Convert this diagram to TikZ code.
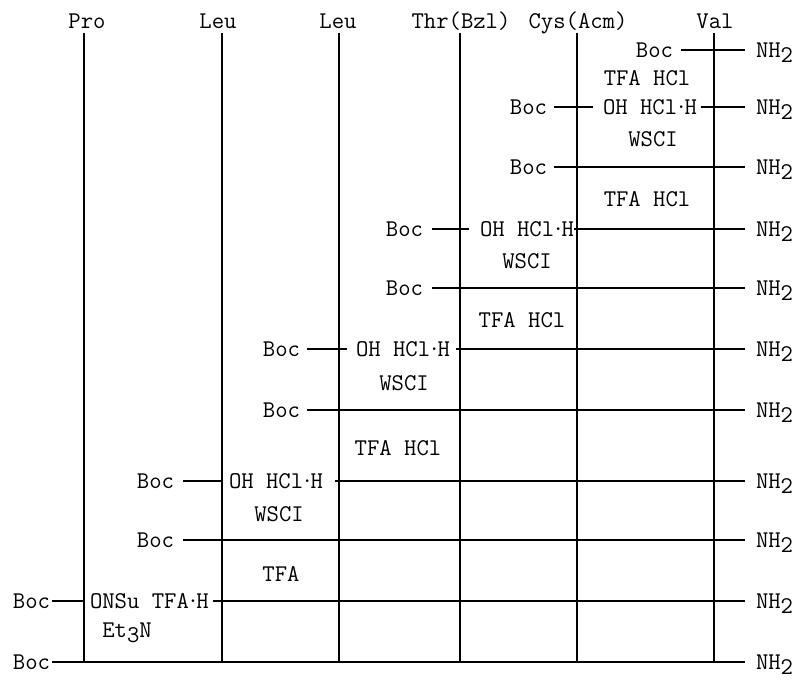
\documentclass[tikz,border=0pt]{standalone}
\newcommand{\subdn}[1]{\raisebox{-5pt}{#1}}
\newcommand{\hcl}{HCl\kern-2pt·\kern-3pt H}
\begin{document}
\begin{tikzpicture}[x=1pt,y=-1pt,
  lbl/.style={font=\ttfamily\fontsize{24}{28}\selectfont, inner sep=0pt, outer sep=0pt, text height=14.6pt, text depth=0pt},
  rail/.style={line width=2.3pt},
  bond/.style={line width=1.8pt, shorten <=8pt, shorten >=11pt},
]
\useasboundingbox (0,0) rectangle (802,682);
% column heads
\node[lbl] (hPro) at (87,21) {Pro};
\node[lbl] (hLeuA) at (218,21) {Leu};
\node[lbl] (hLeuB) at (338,21) {Leu};
\node[lbl] (hThr) at (461,21) {Thr(Bzl)};
\node[lbl] (hCys) at (578,21) {Cys(Acm)};
\node[lbl] (hVal) at (715,21) {Val};
% column rails
\coordinate (tPro) at (84,33);   \coordinate (bPro) at (84,662);
\coordinate (tLeuA) at (222,33); \coordinate (bLeuA) at (222,662);
\coordinate (tLeuB) at (339,33); \coordinate (bLeuB) at (339,662);
\coordinate (tThr) at (460,33);  \coordinate (bThr) at (460,662);
\coordinate (tCys) at (577,33);  \coordinate (bCys) at (577,662);
\coordinate (tVal) at (714,33);  \coordinate (bVal) at (714,662);
\foreach \c in {Pro,LeuA,LeuB,Thr,Cys,Val}{\draw[rail] (t\c) -- (b\c);}
% row 1
\node[lbl,anchor=east] (b1) at (673,50) {Boc};
\node[lbl,anchor=west] (n1) at (756,50) {NH\subdn{2}};
\draw[bond] (b1) -- (n1);
\node[lbl] (r1) at (647,78) {TFA HCl};
% row 2
\node[lbl,anchor=east] (b2) at (547,107) {Boc};
\node[lbl,anchor=west] (o2) at (603,107) {OH \hcl};
\node[lbl,anchor=west] (n2) at (756,107) {NH\subdn{2}};
\draw[bond, shorten <=7pt, shorten >=10pt] (b2) -- (o2);
\draw[bond, shorten <=4pt] (o2) -- (n2);
\node[lbl] (w2) at (653,139) {WSCI};
% row 3
\node[lbl,anchor=east] (b3) at (547,167) {Boc};
\node[lbl,anchor=west] (n3) at (756,167) {NH\subdn{2}};
\draw[bond, shorten <=7pt] (b3) -- (n3);
\node[lbl] (r3) at (647,199) {TFA HCl};
% row 4
\node[lbl,anchor=east] (b4) at (423,229) {Boc};
\node[lbl,anchor=west] (o4) at (480,229) {OH \hcl};
\node[lbl,anchor=west] (n4) at (756,229) {NH\subdn{2}};
\draw[bond, shorten <=9pt, shorten >=11pt] (b4) -- (o4);
\draw[bond, shorten <=0pt] (o4) -- (n4);
\node[lbl] (w4) at (527,261) {WSCI};
% row 5
\node[lbl,anchor=east] (b5) at (423,288) {Boc};
\node[lbl,anchor=west] (n5) at (756,288) {NH\subdn{2}};
\draw[bond, shorten <=9pt] (b5) -- (n5);
\node[lbl] (r5) at (522,320) {TFA HCl};
% row 6
\node[lbl,anchor=east] (b6) at (300,349) {Boc};
\node[lbl,anchor=west] (o6) at (356,349) {OH \hcl};
\node[lbl,anchor=west] (n6) at (756,349) {NH\subdn{2}};
\draw[bond, shorten <=7pt, shorten >=9pt] (b6) -- (o6);
\draw[bond, shorten <=6pt] (o6) -- (n6);
\node[lbl] (w6) at (404,383) {WSCI};
% row 7
\node[lbl,anchor=east] (b7) at (300,410) {Boc};
\node[lbl,anchor=west] (n7) at (756,410) {NH\subdn{2}};
\draw[bond, shorten <=7pt] (b7) -- (n7);
\node[lbl] (r7) at (398,448) {TFA HCl};
% row 8
\node[lbl,anchor=east] (b8) at (174,481) {Boc};
\node[lbl,anchor=west] (o8) at (229,481) {OH \hcl};
\node[lbl,anchor=west] (n8) at (756,481) {NH\subdn{2}};
\draw[bond, shorten <=9pt, shorten >=6pt] (b8) -- (o8);
\draw[bond, shorten <=12pt] (o8) -- (n8);
\node[lbl] (w8) at (279,514) {WSCI};
% row 9
\node[lbl,anchor=east] (b9) at (174,540) {Boc};
\node[lbl,anchor=west] (n9) at (756,540) {NH\subdn{2}};
\draw[bond, shorten <=9pt] (b9) -- (n9);
\node[lbl] (r9) at (281,574) {TFA};
% row 10
\node[lbl,anchor=east] (b10) at (50,601) {Boc};
\node[lbl,anchor=west] (o10) at (90,601) {ONSu TFA\kern-2pt·\kern-3pt H};
\node[lbl,anchor=west] (n10) at (756,601) {NH\subdn{2}};
\draw[bond, shorten <=2pt, shorten >=6pt] (b10) -- (o10);
\draw[bond, shorten <=4pt] (o10) -- (n10);
\node[lbl] (e10) at (127,630) {Et\subdn{3}N};
% row 11
\node[lbl,anchor=east] (b11) at (50,662) {Boc};
\node[lbl,anchor=west] (n11) at (756,662) {NH\subdn{2}};
\draw[bond, shorten <=2pt] (b11) -- (n11);
\end{tikzpicture}
\end{document}
